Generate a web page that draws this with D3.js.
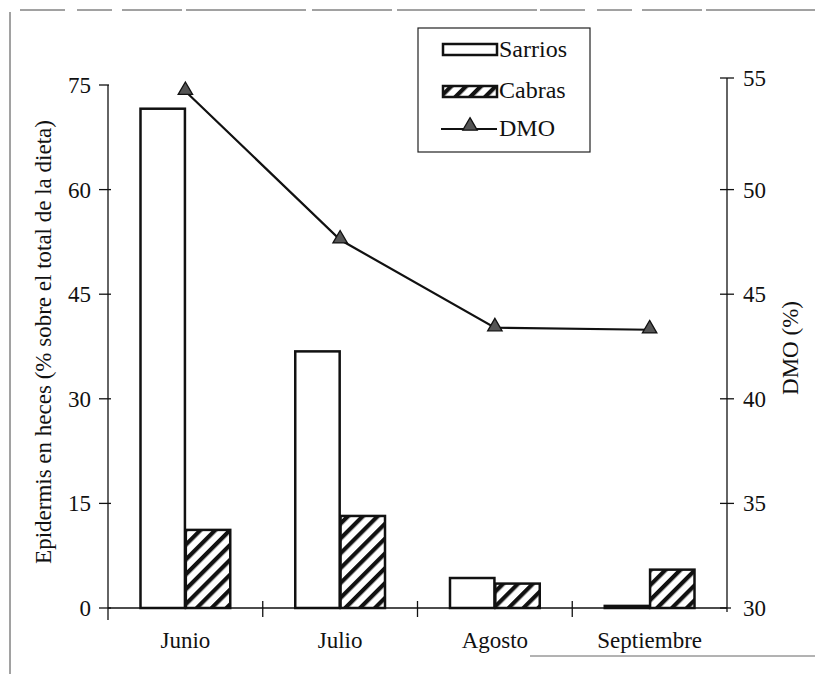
<!DOCTYPE html>
<html><head><meta charset="utf-8">
<script src="https://cdn.jsdelivr.net/npm/d3@7"></script>
<style>body{margin:0;background:#fff}svg{display:block}</style>
</head><body><div id="chart"></div>
<script>
const categories = ["Junio", "Julio", "Agosto", "Septiembre"];
const sarrios = [71.6, 36.8, 4.3, 0.3];
const cabras = [11.2, 13.2, 3.5, 5.5];
const dmo = [54.7, 47.6, 43.4, 43.3];
const leftTicks = [0, 15, 30, 45, 60, 75];
const rightTicks = [30, 35, 40, 45, 50, 55];
const seriesNames = ["Sarrios", "Cabras", "DMO"];

const FONT = "Liberation Serif, DejaVu Serif, serif";
const W = 815, H = 674;
const svg = d3.select("#chart").append("svg").attr("width", W).attr("height", H)
  .style("font-family", FONT);

const defs = svg.append("defs");
const pat = defs.append("pattern").attr("id", "hatch").attr("patternUnits", "userSpaceOnUse")
  .attr("width", 10.5).attr("height", 10.5).attr("patternTransform", "rotate(45)");
pat.append("rect").attr("width", 10.5).attr("height", 10.5).attr("fill", "#fff");
pat.append("rect").attr("x", 0).attr("width", 4.2).attr("height", 10.5).attr("fill", "#111");

function txt(sel) { return sel.attr("font-family", FONT).attr("fill", "#111"); }

// frame
svg.append("line").attr("x1", 20).attr("x2", 815).attr("y1", 10).attr("y2", 10).attr("stroke", "#444").attr("stroke-width", 1).attr("stroke-dasharray", "45,12,35,10,60,4,120,6,80,5,140,3");
svg.append("line").attr("x1", 10).attr("x2", 10).attr("y1", 12).attr("y2", 674).attr("stroke", "#444").attr("stroke-width", 1);
svg.append("line").attr("x1", 530).attr("x2", 815).attr("y1", 656).attr("y2", 656).attr("stroke", "#666").attr("stroke-width", 1);

const x0 = 108, x1 = 727, yTop = 85, yBot = 608;
const x = d3.scaleBand().domain(categories).range([x0, x1]).paddingInner(0.42).paddingOuter(0.21);
const xs = d3.scaleBand().domain(["Sarrios", "Cabras"]).range([0, x.bandwidth()]).paddingInner(0.02);
const yL = d3.scaleLinear().domain([0, 75]).range([yBot, yTop]);
const yR = d3.scaleLinear().domain([30, 55]).range([yBot, yTop]);

// bars
const g = svg.append("g");
categories.forEach((c, i) => {
  g.append("rect").attr("x", x(c) + xs("Sarrios")).attr("width", xs.bandwidth())
    .attr("y", yL(sarrios[i])).attr("height", yBot - yL(sarrios[i]))
    .attr("fill", "#fff").attr("stroke", "#111").attr("stroke-width", 2.5);
  g.append("rect").attr("x", x(c) + xs("Cabras")).attr("width", xs.bandwidth())
    .attr("y", yL(cabras[i])).attr("height", yBot - yL(cabras[i]))
    .attr("fill", "url(#hatch)").attr("stroke", "#111").attr("stroke-width", 2.5);
});

// axes
const ax = svg.append("g").attr("stroke", "#111").attr("stroke-width", 1.3);
ax.append("line").attr("x1", x0).attr("x2", x1).attr("y1", yBot).attr("y2", yBot).attr("stroke-width", 1.6);
ax.append("line").attr("x1", x0).attr("x2", x0).attr("y1", yTop).attr("y2", yBot + 12);
ax.append("line").attr("x1", x1).attr("x2", x1).attr("y1", yTop - 7).attr("y2", yBot + 4);
const step = x.step();
for (let k = 1; k < categories.length; k++) {
  const bx = x0 + k * step;
  ax.append("line").attr("x1", bx).attr("x2", bx).attr("y1", yBot - 7).attr("y2", yBot + 9);
}
leftTicks.forEach(t => {
  ax.append("line").attr("x1", x0 - 9).attr("x2", x0 + (t === 75 ? 1 : 3)).attr("y1", yL(t)).attr("y2", yL(t));
  txt(svg.append("text")).attr("x", x0 - 17).attr("y", yL(t)).attr("dy", "0.35em").attr("text-anchor", "end")
    .attr("font-size", 23).text(t);
});
rightTicks.forEach(t => {
  const yy = yR(t) - (t === 55 ? 7 : 0);
  ax.append("line").attr("x1", x1 - 7).attr("x2", x1 + (t === 30 ? 4 : 7)).attr("y1", yy).attr("y2", yy);
  txt(svg.append("text")).attr("x", x1 + 16).attr("y", yy).attr("dy", "0.35em").attr("text-anchor", "start")
    .attr("font-size", 23).text(t);
});
categories.forEach(c => {
  txt(svg.append("text")).attr("x", x(c) + x.bandwidth() / 2).attr("y", 648).attr("text-anchor", "middle")
    .attr("font-size", 23).text(c);
});

txt(svg.append("text")).attr("transform", "translate(51,342) rotate(-90)").attr("text-anchor", "middle")
  .attr("font-size", 23).text("Epidermis en heces (% sobre el total de la dieta)");
txt(svg.append("text")).attr("transform", "translate(798,348) rotate(-90)").attr("text-anchor", "middle")
  .attr("font-size", 23).text("DMO (%)");

// line
const cx = c => x(c) + x.bandwidth() / 2;
const line = d3.line().x((d, i) => cx(categories[i])).y(d => yR(d));
svg.append("path").datum(dmo).attr("d", line).attr("fill", "none").attr("stroke", "#111").attr("stroke-width", 2.2);
const tri = d3.symbol().type(d3.symbolTriangle).size(90);
dmo.forEach((d, i) => {
  svg.append("path").attr("d", tri()).attr("transform", `translate(${cx(categories[i])},${yR(d) - 1})`)
    .attr("fill", "#555").attr("stroke", "#111").attr("stroke-width", 1.3);
});

// legend
const lg = svg.append("g");
lg.append("rect").attr("x", 418).attr("y", 28).attr("width", 172).attr("height", 124)
  .attr("fill", "#fff").attr("stroke", "#222").attr("stroke-width", 1.2);
lg.append("rect").attr("x", 443).attr("y", 44).attr("width", 54).attr("height", 11)
  .attr("fill", "#fff").attr("stroke", "#111").attr("stroke-width", 2.5);
txt(lg.append("text")).attr("x", 499).attr("y", 57).attr("font-size", 24).text(seriesNames[0]);
lg.append("rect").attr("x", 443).attr("y", 86).attr("width", 54).attr("height", 11)
  .attr("fill", "url(#hatch)").attr("stroke", "#111").attr("stroke-width", 2.5);
txt(lg.append("text")).attr("x", 499).attr("y", 98).attr("font-size", 24).text(seriesNames[1]);
lg.append("line").attr("x1", 441).attr("x2", 497).attr("y1", 129).attr("y2", 129).attr("stroke", "#111").attr("stroke-width", 2);
lg.append("path").attr("d", tri()).attr("transform", "translate(470,126)").attr("fill", "#555").attr("stroke", "#111").attr("stroke-width", 1.3);
txt(lg.append("text")).attr("x", 499).attr("y", 136).attr("font-size", 24).text(seriesNames[2]);
</script></body></html>
